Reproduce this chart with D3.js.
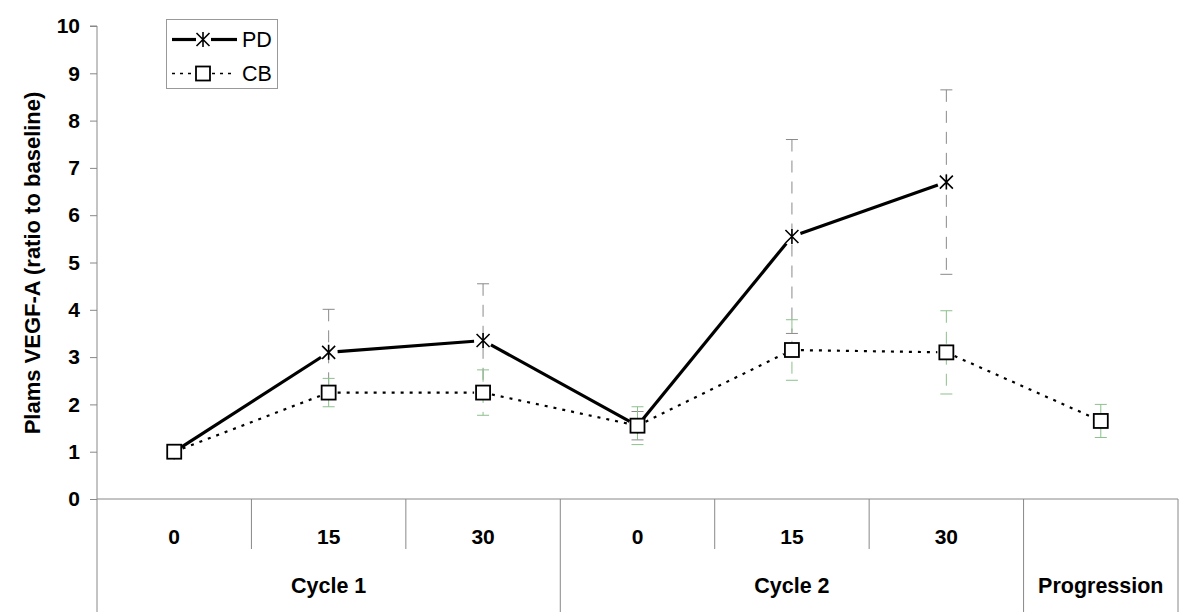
<!DOCTYPE html>
<html><head><meta charset="utf-8">
<script src="https://cdn.jsdelivr.net/npm/d3@7/dist/d3.min.js"></script>
<style>body{margin:0;background:#fff}svg{display:block}text{font-family:"Liberation Sans",Arial,sans-serif}</style>
</head><body><svg id="c" width="1200" height="612"></svg>
<script>
const categories = ["c1-0","c1-15","c1-30","c2-0","c2-15","c2-30","prog"];
const dayLabels = ["0","15","30","0","15","30",""];
const groups = [{name:"Cycle 1", start:0, end:3},{name:"Cycle 2", start:3, end:6},{name:"Progression", start:6, end:7}];
const pdValues = [1.0, 3.1, 3.35, 1.55, 5.55, 6.7, null];
const pdErrors = [0, 0.91, 1.2, 0.3, 2.05, 1.95, null];
const cbValues = [1.0, 2.25, 2.25, 1.55, 3.15, 3.1, 1.65];
const cbErrors = [0, 0.3, 0.48, 0.4, 0.64, 0.88, 0.35];
const yTicks = [0,1,2,3,4,5,6,7,8,9,10];

(function(){
const svg = d3.select("#c");
const mLeft = 97, mRight = 1178, mTop = 26, mBottom = 499;
const x = d3.scaleBand().domain(categories).range([mLeft, mRight]).padding(0);
const y = d3.scaleLinear().domain([0, 10]).range([mBottom, mTop]);
const cx = i => x(categories[i]) + x.bandwidth()/2;

// y axis
const yAxis = d3.axisLeft(y).tickValues(yTicks).tickSize(7).tickPadding(10).tickFormat(d3.format("d"));
const ga = svg.append("g").attr("transform", `translate(${mLeft},0)`).call(yAxis);
ga.select(".domain").attr("stroke", "#888").attr("d", `M-7,${mTop}H0V${mBottom}`);
ga.selectAll(".tick line").attr("stroke", "#888");
ga.selectAll(".tick text").attr("font-size", 21).attr("font-weight", "bold").attr("fill", "#000")
  .style("font-family", '"Liberation Sans",Arial,sans-serif');

// y label
svg.append("text").attr("transform", `translate(40,263) rotate(-90)`).attr("text-anchor","middle")
  .attr("font-size", 22).attr("font-weight","bold").text("Plams VEGF-A (ratio to baseline)");

// x axis line and category table
svg.append("line").attr("x1", mLeft).attr("x2", mRight).attr("y1", mBottom).attr("y2", mBottom).attr("stroke","#888");
const gx = svg.append("g");
categories.forEach((c, i) => {
  gx.append("text").attr("x", cx(i)).attr("y", 543.5).attr("text-anchor","middle")
    .attr("font-size", 21).attr("font-weight","bold").text(dayLabels[i]);
});
const groupBounds = new Set();
groups.forEach(g => { groupBounds.add(g.start); groupBounds.add(g.end); });
for (let i = 0; i <= categories.length; i++) {
  const xx = i < categories.length ? x(categories[i]) : x(categories[categories.length-1]) + x.bandwidth();
  const full = groupBounds.has(i);
  gx.append("line").attr("x1", xx).attr("x2", xx).attr("y1", mBottom).attr("y2", full ? 612 : 549)
    .attr("stroke", "#888").attr("stroke-width", 1);
}
groups.forEach(g => {
  const xs = x(categories[g.start]);
  const xe = x(categories[g.end-1]) + x.bandwidth();
  gx.append("text").attr("x", (xs+xe)/2).attr("y", 593).attr("text-anchor","middle")
    .attr("font-size", 21.5).attr("font-weight","bold").text(g.name);
});

// error bars
function errBars(vals, errs, color) {
  const g = svg.append("g");
  vals.forEach((v, i) => {
    if (v == null || !errs[i]) return;
    const xx = cx(i), y1 = y(v + errs[i]), y2 = y(v - errs[i]);
    g.append("line").attr("x1", xx).attr("x2", xx).attr("y1", y1).attr("y2", y2)
      .attr("stroke", color).attr("stroke-width", 1).attr("stroke-dasharray", "12,9");
    [y1, y2].forEach(yy => g.append("line").attr("x1", xx-6).attr("x2", xx+6).attr("y1", yy).attr("y2", yy)
      .attr("stroke", color).attr("stroke-width", 1));
  });
}
errBars(pdValues, pdErrors, "#8a8a8a");
errBars(cbValues, cbErrors, "#8cc08c");

// series lines (trimmed around markers)
function seriesLine(vals, gap, attrs) {
  const g = svg.append("g");
  for (let i = 0; i < vals.length - 1; i++) {
    if (vals[i] == null || vals[i+1] == null) continue;
    const x1 = cx(i), y1 = y(vals[i]), x2 = cx(i+1), y2 = y(vals[i+1]);
    const dx = x2 - x1, dy = y2 - y1, L = Math.hypot(dx, dy);
    const ux = dx / L, uy = dy / L;
    const l = g.append("line").attr("x1", x1 + ux*gap).attr("y1", y1 + uy*gap)
      .attr("x2", x2 - ux*gap).attr("y2", y2 - uy*gap);
    Object.entries(attrs).forEach(([k, v]) => l.attr(k, v));
  }
}
seriesLine(cbValues, 9, {stroke:"#000", "stroke-width":2.2, "stroke-dasharray":"3,6"});
seriesLine(pdValues, 9, {stroke:"#000", "stroke-width":3.2});

// markers
function asterisk(g, px, py, s) {
  g.append("path").attr("d", `M${px-s},${py-s}L${px+s},${py+s}M${px-s},${py+s}L${px+s},${py-s}M${px},${py-s-1}L${px},${py+s+1}`)
    .attr("stroke","#000").attr("stroke-width",1.6).attr("fill","none");
}
function square(g, px, py, s) {
  g.append("rect").attr("x", px-s).attr("y", py-s).attr("width", 2*s).attr("height", 2*s)
    .attr("fill","#fff").attr("stroke","#000").attr("stroke-width",1.8);
}
const gm = svg.append("g");
pdValues.forEach((v, i) => { if (v != null) asterisk(gm, cx(i), y(v), 6.5); });
cbValues.forEach((v, i) => { if (v != null) square(gm, cx(i), y(v), 7); });

// legend
const lg = svg.append("g");
lg.append("rect").attr("x", 166.5).attr("y", 19.5).attr("width", 111).attr("height", 69)
  .attr("fill","#fff").attr("stroke","#999");
lg.append("line").attr("x1",172).attr("x2",196).attr("y1",39.5).attr("y2",39.5).attr("stroke","#000").attr("stroke-width",3.2);
lg.append("line").attr("x1",211).attr("x2",237).attr("y1",39.5).attr("y2",39.5).attr("stroke","#000").attr("stroke-width",3.2);
asterisk(lg, 203, 39.5, 6.5);
lg.append("text").attr("x",242).attr("y",47).attr("font-size",21.5).text("PD");
lg.append("line").attr("x1",172).attr("x2",236).attr("y1",73.5).attr("y2",73.5).attr("stroke","#000").attr("stroke-width",1.5).attr("stroke-dasharray","3,5");
square(lg, 203, 73.5, 7);
lg.append("text").attr("x",242).attr("y",81).attr("font-size",21.5).text("CB");
})();
</script></body></html>
